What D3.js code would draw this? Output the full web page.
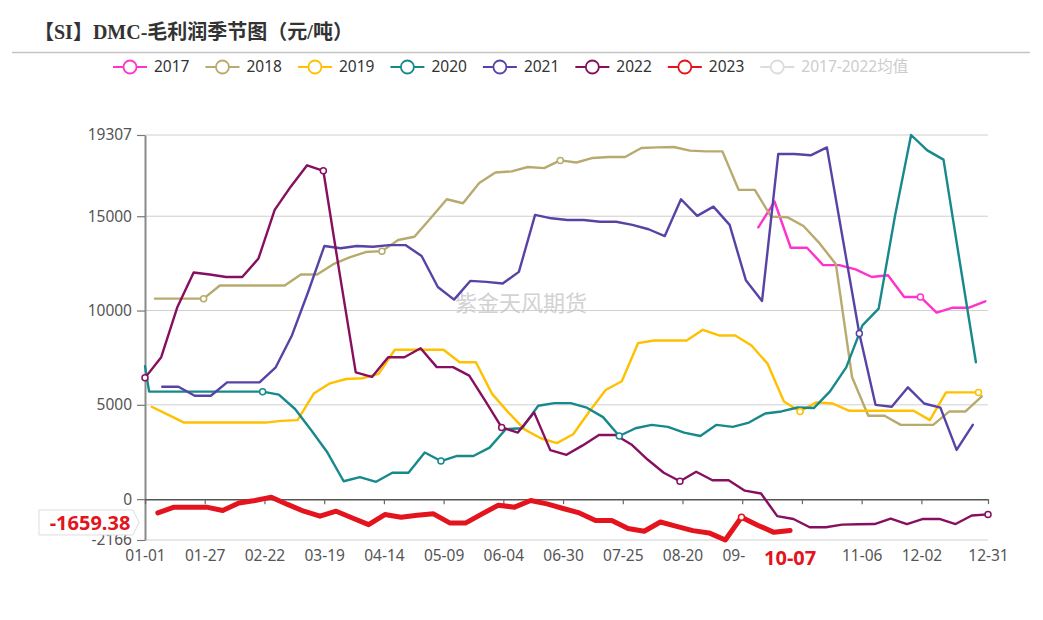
<!DOCTYPE html>
<html>
<head>
<meta charset="utf-8">
<script src="https://cdn.jsdelivr.net/npm/d3@7"></script>
<style>
  body { margin: 0; background: #fff; }
  svg text { font-family: "Noto Sans", "Noto Sans CJK SC", sans-serif; }
</style>
</head>
<body>
<svg width="1043" height="620"></svg>
<script>
// **** data ****
var years = ['2017', '2018', '2019', '2020', '2021', '2022', '2023'];
var legendNames = ['2017', '2018', '2019', '2020', '2021', '2022', '2023', '2017-2022均值'];

// x axis is a day-of-season category axis, labelled every 26 days
var tickDays = [0, 26, 52, 78, 104, 130, 156, 182, 208, 234, 260, 286, 312, 338, 367];
var tickLabels = ['01-01', '01-27', '02-22', '03-19', '04-14', '05-09', '06-04', '06-30',
    '07-25', '08-20', '09-15', '10-11', '11-06', '12-02', '12-31'];
var yTicks = [-2166, 0, 5000, 10000, 15000, 19307];

// weekly observations, first day of each year's series
var firstDay = { '2017': 267, '2018': 4.35, '2019': 2.9, '2020': 1.8, '2021': 7.5, '2022': 0, '2023': 5.6 };
var jan1_2020 = 7050;

var v2017 = [14410, 15780, 13330, 13330, 12410, 12410, 12180, 11780, 11870, 10720, 10720,
    9890, 10150, 10150, 10490];

var v2018 = [10630, 10630, 10630, 10630, 11330, 11330, 11330, 11330, 11330, 11910, 11910,
    12460, 12820, 13100, 13150, 13740, 13910, 14890, 15900, 15690, 16760, 17320, 17380,
    17610, 17550, 17960, 17850, 18090, 18140, 18140, 18620, 18650, 18670, 18480, 18440,
    18440, 16400, 16400, 14980, 14950, 14480, 13560, 12460, 6460, 4420, 4420, 3940, 3940,
    3940, 4650, 4650, 5450];

var v2019 = [4900, 4480, 4060, 4060, 4060, 4060, 4060, 4060, 4150, 4190, 5600, 6140, 6370,
    6410, 6640, 7920, 7920, 7920, 7920, 7260, 7260, 5580, 4600, 3700, 3230, 2970, 3440,
    4650, 5790, 6250, 8270, 8410, 8410, 8410, 8980, 8680, 8680, 8150, 7170, 5180, 4650,
    5130, 5070, 4690, 4690, 4690, 4690, 4690, 4190, 5660, 5660, 5660];

var v2020 = [5700, 5700, 5700, 5700, 5700, 5700, 5700, 5700, 5540, 4780, 3650, 2470, 950,
    1170, 920, 1400, 1400, 2470, 2020, 2290, 2290, 2730, 3710, 3760, 4950, 5090, 5090,
    4850, 4350, 3350, 3760, 3940, 3830, 3530, 3350, 3940, 3830, 4060, 4540, 4650, 4860,
    4830, 5710, 6990, 9210, 10100, 14980, 19307, 18490, 18000, 12600, 7260];

var v2021 = [5960, 5960, 5480, 5480, 6190, 6190, 6190, 6990, 8680, 10985, 13420, 13300,
    13420, 13380, 13470, 13470, 12890, 11250, 10580, 11570, 11520, 11430, 12050, 15070,
    14890, 14800, 14800, 14710, 14710, 14540, 14310, 13950, 15900, 15020, 15510, 14540,
    11610, 10510, 18300, 18300, 18230, 18650, 13700, 8780, 5000, 4900, 5930, 5070, 4850,
    2610, 3940];

var v2022 = [6430, 7525, 10190, 12020, 11910, 11780, 11780, 12760, 15335, 16580, 17700,
    17410, 12000, 6720, 6480, 7525, 7525, 8000, 7000, 7000, 6550, 5200, 3800, 3530, 4600,
    2600, 2350, 2850, 3400, 3410, 2900, 2100, 1400, 950, 1450, 1000, 1000, 450, 300, -900,
    -1050, -1490, -1490, -1350, -1330, -1320, -1030, -1320, -1050, -1050, -1320, -870, -810];

var v2023 = [-730, -425, -425, -425, -600, -200, -70, 105, -280, -640, -905, -640, -1000,
    -1350, -815, -960, -850, -780, -1260, -1260, -780, -320, -425, -70, -250, -495, -730,
    -1130, -1130, -1560, -1700, -1210, -1440, -1670, -1790, -2166, -960, -1380, -1760, -1659.38];

// points that fall on a labelled date get a hollow symbol
var symbolAt = { '2017': [10], '2018': [3, 14, 25], '2019': [40, 51], '2020': [7, 18, 29],
    '2021': [43], '2022': [0, 11, 22, 33, 52], '2023': [36] };

var pointerLabel = '10-07';

// **** styles ****
var colors = ['#ff33cc', '#b8aa6e', '#ffc000', '#17898c', '#5842a6', '#860f5f', '#e3141e', '#dcdcdc'];
var stepDays = 367 / 52;

var seriesValues = { '2017': v2017, '2018': v2018, '2019': v2019, '2020': v2020,
    '2021': v2021, '2022': v2022, '2023': v2023 };

var series = years.map(function(yr, k) {
    var pts = seriesValues[yr].map(function(v, i) {
        return { day: firstDay[yr] + i * stepDays, v: v, sym: symbolAt[yr].indexOf(i) >= 0 };
    });
    if (yr === '2020') pts.unshift({ day: 0, v: jan1_2020, sym: false });
    return { name: yr, color: colors[k], pts: pts };
});

// **** scales ****
var xScale = d3.scaleLinear().domain([0, 367]).range([145, 988]);
var yScale = d3.scaleLinear().domain([-2166, 19307]).range([540, 135]);

var svg = d3.select('svg');

// title
svg.append('text')
    .attr('x', 34).attr('y', 39)
    .style('font-family', '"Liberation Serif", "Noto Sans CJK SC", serif')
    .style('font-size', '20px').style('font-weight', 'bold').style('fill', '#333')
    .text('【SI】DMC-毛利润季节图（元/吨）');

svg.append('line')
    .attr('x1', 12).attr('x2', 1030).attr('y1', 52.5).attr('y2', 52.5)
    .attr('stroke', '#c4c4c4').attr('stroke-width', 1.5);

// legend
var legend = svg.append('g');
var lx = 113;
legendNames.forEach(function(name, i) {
    var g = legend.append('g').attr('transform', 'translate(' + lx + ',67)');
    g.append('line').attr('x1', 0).attr('x2', 34)
        .attr('stroke', colors[i]).attr('stroke-width', 2);
    g.append('circle').attr('cx', 17).attr('r', 6.5)
        .attr('fill', '#fff').attr('stroke', colors[i]).attr('stroke-width', 1.8);
    var t = g.append('text').attr('x', 41).attr('dy', '0.35em')
        .style('font-size', '15.5px')
        .style('fill', i === legendNames.length - 1 ? '#cccccc' : '#333')
        .text(name);
    lx += 41 + t.node().getComputedTextLength() + 16;
});

// grid
svg.append('g').selectAll('line')
    .data(yTicks.filter(function(d) { return d !== 0; }))
    .join('line')
    .attr('x1', 145).attr('x2', 988)
    .attr('y1', function(d) { return yScale(d); })
    .attr('y2', function(d) { return yScale(d); })
    .attr('stroke', '#cfcfcf').attr('stroke-width', 1);

// watermark
svg.append('text')
    .attr('x', 521).attr('y', 311)
    .attr('text-anchor', 'middle')
    .style('font-size', '22px').style('fill', '#c4c4c4').style('opacity', 0.75)
    .text('紫金天风期货');

// y axis
var yAxis = svg.append('g').attr('class', 'y axis')
    .attr('transform', 'translate(145,0)')
    .call(d3.axisLeft(yScale).tickValues(yTicks).tickSize(8).tickSizeOuter(0)
        .tickPadding(5).tickFormat(function(d) { return String(d); }));
yAxis.select('.domain').attr('stroke', '#8a8a8a').attr('stroke-width', 2);
yAxis.selectAll('.tick line').attr('stroke', '#777').attr('stroke-width', 1.2);
yAxis.selectAll('text').style('font-size', '15.5px').style('fill', '#555').style('font-family', null);

// x axis line sits on zero, labels along the bottom
var xAxis = svg.append('g').attr('class', 'x axis')
    .attr('transform', 'translate(0,' + yScale(0) + ')')
    .call(d3.axisBottom(xScale).tickValues(tickDays).tickSize(5).tickSizeOuter(0)
        .tickFormat(''));
xAxis.select('.domain').attr('stroke', '#555').attr('stroke-width', 1.5);
xAxis.selectAll('.tick line').attr('stroke', '#666').attr('stroke-width', 1.2);

var xLabels = svg.append('g')
    .attr('transform', 'translate(0,' + yScale(-2166) + ')')
    .call(d3.axisBottom(xScale).tickValues(tickDays).tickSize(0).tickPadding(10)
        .tickFormat(function(d, i) { return tickLabels[i]; }));
xLabels.select('.domain').remove();
xLabels.selectAll('text').style('font-size', '15.5px').style('fill', '#555').style('font-family', null);

// series
var line = d3.line()
    .x(function(d) { return xScale(d.day); })
    .y(function(d) { return yScale(d.v); });

var lines = svg.append('g');
series.forEach(function(s) {
    lines.append('path')
        .datum(s.pts)
        .attr('d', line)
        .attr('fill', 'none')
        .attr('stroke', s.color)
        .attr('stroke-width', s.name === '2023' ? 5 : 2.4)
        .attr('stroke-linejoin', 'round')
        .attr('stroke-linecap', 'round');
});
series.forEach(function(s) {
    lines.append('g').selectAll('circle')
        .data(s.pts.filter(function(d) { return d.sym; }))
        .join('circle')
        .attr('cx', function(d) { return xScale(d.day); })
        .attr('cy', function(d) { return yScale(d.v); })
        .attr('r', 3)
        .attr('fill', '#fff')
        .attr('stroke', s.color)
        .attr('stroke-width', 1.5);
});

// axis pointer labels at the latest 2023 point
var last = series[6].pts[series[6].pts.length - 1];
var px = xScale(last.day);

svg.append('rect')
    .attr('x', px - 44).attr('y', 546).attr('width', 88).attr('height', 26)
    .attr('fill', '#fff');
svg.append('text')
    .attr('x', px).attr('y', 565)
    .attr('text-anchor', 'middle')
    .style('font-size', '20px').style('font-weight', 'bold').style('fill', '#e3141e')
    .text(pointerLabel);

var by = yScale(last.v) - 8;
svg.append('path')
    .attr('d', 'M39,' + (by - 12.5) + 'H133L139,' + by + 'L133,' + (by + 12.5) + 'H39Z')
    .attr('fill', '#fff').attr('stroke', '#ddd').attr('stroke-width', 1);
svg.append('text')
    .attr('x', 90).attr('y', by)
    .attr('dy', '0.36em')
    .attr('text-anchor', 'middle')
    .style('font-size', '20px').style('font-weight', 'bold').style('fill', '#e3141e')
    .text(last.v.toFixed(2));
</script>
</body>
</html>
